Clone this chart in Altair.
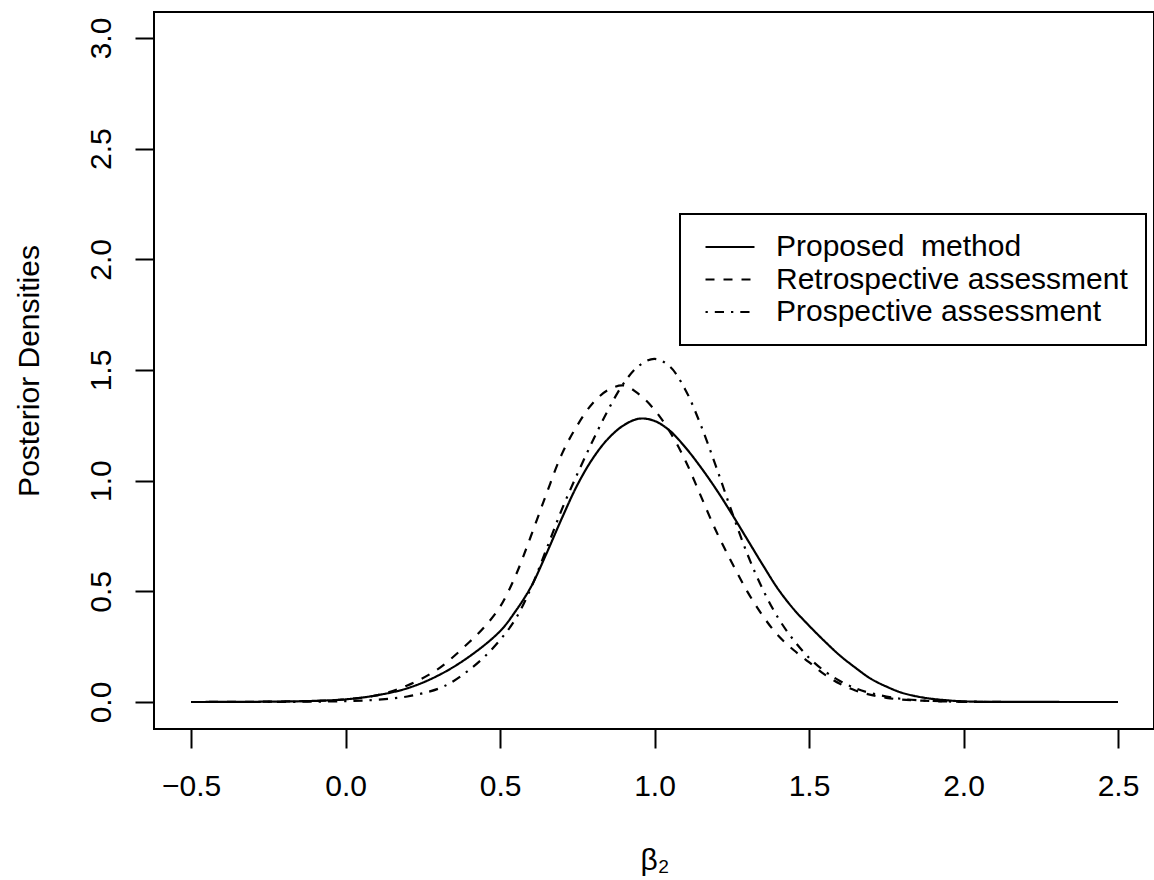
import altair as alt
import pandas as pd

# --- data ---
methods = ["Proposed\u00a0 method", "Retrospective assessment", "Prospective assessment"]

x_proposed = [-0.5, -0.3, -0.1, 0.0, 0.1, 0.2, 0.3, 0.4, 0.5, 0.55, 0.6, 0.65, 0.7, 0.75, 0.8,
              0.85, 0.9, 0.95, 1.0, 1.05, 1.1, 1.15, 1.2, 1.25, 1.3, 1.35, 1.4, 1.45, 1.5, 1.55,
              1.6, 1.65, 1.7, 1.75, 1.8, 1.85, 1.9, 2.0, 2.2, 2.5]
y_proposed = [0.0, 0.001, 0.005, 0.012, 0.03, 0.062, 0.12, 0.205, 0.32, 0.41, 0.52, 0.67, 0.83, 0.98, 1.10,
              1.19, 1.25, 1.28, 1.27, 1.225, 1.15, 1.06, 0.96, 0.85, 0.735, 0.62, 0.51, 0.42, 0.345, 0.275,
              0.21, 0.155, 0.105, 0.07, 0.042, 0.025, 0.014, 0.003, 0.0005, 0.0]

x_retro = [-0.5, -0.3, -0.1, 0.0, 0.1, 0.2, 0.3, 0.4, 0.45, 0.5, 0.55, 0.6, 0.65, 0.7, 0.75, 0.8,
           0.85, 0.9, 0.95, 1.0, 1.05, 1.1, 1.15, 1.2, 1.25, 1.3, 1.35, 1.4, 1.45, 1.5, 1.55, 1.6,
           1.65, 1.7, 1.75, 1.8, 1.9, 2.0, 2.2, 2.5]
y_retro = [0.0, 0.001, 0.005, 0.012, 0.03, 0.075, 0.15, 0.27, 0.34, 0.43, 0.57, 0.75, 0.94, 1.12, 1.25, 1.35,
           1.41, 1.43, 1.39, 1.32, 1.22, 1.09, 0.93, 0.77, 0.63, 0.50, 0.39, 0.30, 0.235, 0.18, 0.125, 0.082,
           0.052, 0.032, 0.019, 0.011, 0.004, 0.001, 0.0, 0.0]

x_prosp = [-0.5, -0.2, 0.0, 0.1, 0.2, 0.3, 0.35, 0.4, 0.45, 0.5, 0.55, 0.6, 0.65, 0.7, 0.75, 0.8,
           0.85, 0.9, 0.95, 1.0, 1.05, 1.1, 1.15, 1.2, 1.25, 1.3, 1.35, 1.4, 1.45, 1.5, 1.55, 1.6,
           1.65, 1.7, 1.8, 1.9, 2.0, 2.2, 2.5]
y_prosp = [0.0, 0.0005, 0.004, 0.01, 0.025, 0.06, 0.095, 0.145, 0.205, 0.28, 0.375, 0.515, 0.69, 0.87, 1.03, 1.18,
           1.32, 1.44, 1.52, 1.55, 1.515, 1.41, 1.25, 1.06, 0.86, 0.67, 0.51, 0.38, 0.28, 0.20, 0.14, 0.095,
           0.062, 0.04, 0.014, 0.005, 0.001, 0.0, 0.0]

x_ticks = [-0.5, 0.0, 0.5, 1.0, 1.5, 2.0, 2.5]
y_ticks = [0.0, 0.5, 1.0, 1.5, 2.0, 2.5, 3.0]

rows = []
for name, xs, ys in zip(methods, [x_proposed, x_retro, x_prosp], [y_proposed, y_retro, y_prosp]):
    for xv, yv in zip(xs, ys):
        rows.append({"method": name, "x": xv, "y": yv})
df = pd.DataFrame(rows)

FONT = "Liberation Sans"

chart = alt.Chart(df).mark_line(
    color="black", strokeWidth=2.2, interpolate="catmull-rom"
).encode(
    x=alt.X("x:Q",
            scale=alt.Scale(domain=[-0.62, 2.6165], nice=False, zero=False),
            axis=alt.Axis(values=x_ticks, format=".1f", title="β₂",
                          labelPadding=47, labelBaseline="alphabetic", labelFlush=False,
                          labelOverlap=False,
                          titleX=500.5, titleY=140, titleAlign="center",
                          titleBaseline="alphabetic")),
    y=alt.Y("y:Q",
            scale=alt.Scale(domain=[-0.122, 3.1175], nice=False, zero=False),
            axis=alt.Axis(values=y_ticks, format=".1f", title="Posterior Densities",
                          labelAngle=270, labelAlign="center", labelBaseline="alphabetic",
                          labelPadding=25, labelFlush=False, labelOverlap=False,
                          titleAngle=270, titleX=-116, titleY=358.5, titleAlign="center",
                          titleBaseline="alphabetic")),
    strokeDash=alt.StrokeDash(
        "method:N",
        scale=alt.Scale(domain=methods, range=[[1, 0], [9, 9], [2.3, 7, 9.2, 7]]),
        legend=alt.Legend(title=None, orient="none", legendX=526, legendY=202),
    ),
).properties(
    width=1000, height=717,
    autosize="none",
    padding={"left": 154, "top": 12, "right": 0, "bottom": 151},
).configure_view(
    stroke="black", strokeWidth=2
).configure_axis(
    domain=False, grid=False, ticks=True, tickColor="black", tickWidth=2, tickSize=19,
    labelFont=FONT, labelFontSize=30, labelColor="black",
    titleFont=FONT, titleFontSize=30, titleFontWeight="normal", titleColor="black",
).configure_legend(
    labelFont=FONT, labelFontSize=30, labelColor="black", labelLimit=600,
    symbolType="M-2,0H2", symbolSize=600, symbolStrokeWidth=2.2, symbolStrokeColor="black",
    strokeColor="black", strokeWidth=2, fillColor="white",
    padding=18, symbolOffset=17, labelOffset=31, rowPadding=2.5,
)

chart.save("out.html", embed_options={"renderer": "svg", "actions": False})
